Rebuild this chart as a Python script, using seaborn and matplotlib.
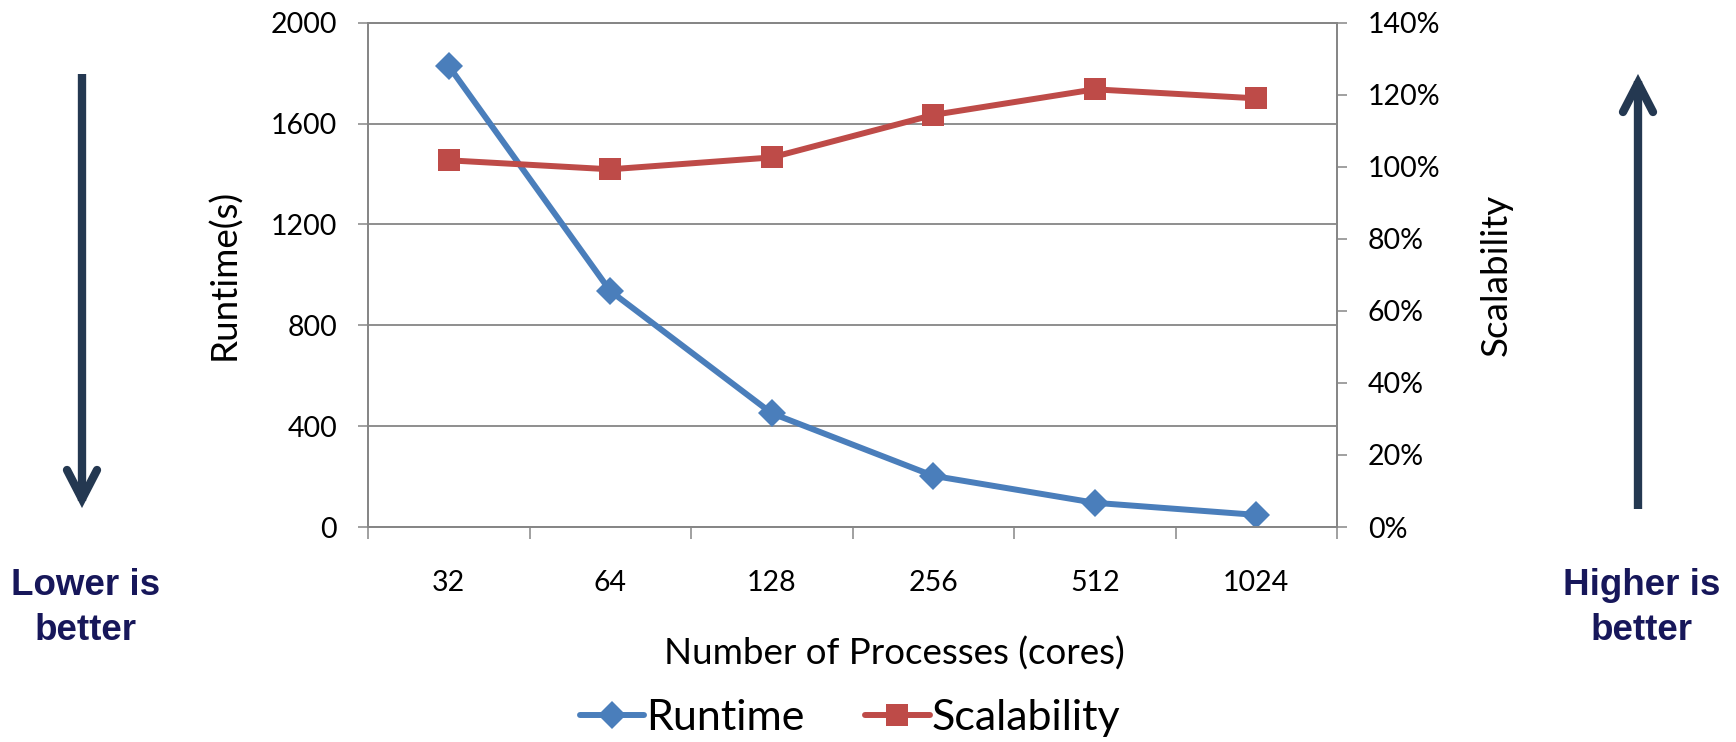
import numpy as np
import pandas as pd
import matplotlib
matplotlib.use("Agg")
import matplotlib.pyplot as plt
from matplotlib.lines import Line2D
from matplotlib.ticker import FixedLocator, FuncFormatter
import seaborn as sns

# ---- data ----
cores = ["32", "64", "128", "256", "512", "1024"]
runtime = [1828, 936, 451, 203, 96, 48]
scalability = [101.8, 99.3, 102.6, 114.4, 121.5, 119.0]
runtime_ticks = [0, 400, 800, 1200, 1600, 2000]
scal_ticks = [0, 20, 40, 60, 80, 100, 120, 140]

sns.set_theme(style="white")
plt.rcParams["font.family"] = ["Lato", "DejaVu Sans"]
plt.rcParams["text.color"] = "black"

W, H = 1736, 742
fig = plt.figure(figsize=(W / 100, H / 100), dpi=100)

def fx(px):
    return px / W

def fy(py):
    return 1 - py / H

L, R, T, B = 368, 1337, 22.7, 527
ax = fig.add_axes([fx(L), fy(B), (R - L) / W, (B - T) / H])
ax2 = ax.twinx()

df = pd.DataFrame({"cores": cores, "Runtime": runtime, "Scalability": scalability})

blue = "#4A7EBB"
red = "#BE4B48"
gray = "#868686"

sns.lineplot(data=df, x="cores", y="Runtime", ax=ax, sort=False, color=blue,
             lw=4.3, marker="D", markersize=14, markeredgewidth=0,
             label="Runtime", legend=False, zorder=3)
sns.lineplot(data=df, x="cores", y="Scalability", ax=ax2, sort=False, color=red,
             lw=4.3, marker="s", markersize=16.5, markeredgewidth=0,
             label="Scalability", legend=False, zorder=3)

n = len(cores)
for a in (ax, ax2):
    a.set_xlim(-0.5, n - 0.5)
    for s in a.spines.values():
        s.set_color(gray)
        s.set_linewidth(1.3)
        s.set_visible(True)

ax.set_ylim(0, 2000)
ax.yaxis.set_major_locator(FixedLocator(runtime_ticks))
ax2.set_ylim(0, 140)
ax2.yaxis.set_major_locator(FixedLocator(scal_ticks))
ax2.yaxis.set_major_formatter(FuncFormatter(lambda v, p: f"{v:.0f}%"))

ax.yaxis.grid(True, color=gray, lw=1.3)
ax.xaxis.grid(False)
ax2.grid(False)
ax.set_axisbelow(True)

ax.set_xticks(range(n))
ax.set_xticklabels(cores)
ax.set_xticks(np.arange(-0.5, n, 1.0), minor=True)
ax.tick_params(axis="x", which="major", length=0, pad=31, labelsize=20.5, labelcolor="black")
ax.tick_params(axis="x", which="minor", length=8.6, width=1.1, color=gray, direction="out", bottom=True)
ax.tick_params(axis="y", length=7.2, width=1.1, color=gray, direction="out", pad=15,
               labelsize=20.5, labelcolor="black", left=True)
ax2.tick_params(axis="y", length=7.2, width=1.1, color=gray, direction="out", pad=15,
                labelsize=20.5, labelcolor="black", right=True)

ax.set_xlabel("Number of Processes (cores)", fontsize=26.5, color="black")
ax.xaxis.set_label_coords((894 - L) / (R - L), (B - 637) / (B - T))
ax.set_ylabel("Runtime(s)", fontsize=26.5, color="black")
ax.yaxis.set_label_coords((241 - L) / (R - L), 0.5)
ax2.set_ylabel("Scalability", fontsize=26.5, color="black")
ax2.yaxis.set_label_coords((1480 - L) / (R - L), 0.5)

# legend
h1, l1 = ax.get_legend_handles_labels()
h2, l2 = ax2.get_legend_handles_labels()
leg = fig.legend(h1 + h2, l1 + l2, loc="center", bbox_to_anchor=(fx(850), fy(718)),
                 ncol=2, frameon=False, fontsize=31, handlelength=1.5,
                 handletextpad=0.05, columnspacing=1.4, labelcolor="black")

# arrows
acol = "#243851"
alw = 6.0

def arrow(x, tail, vertex, arm_y, dx=15):
    shaft_end = vertex + (2 if vertex > tail else -2)
    fig.add_artist(Line2D([fx(x), fx(x)], [fy(tail), fy(shaft_end)], color=acol, lw=alw,
                          solid_capstyle="butt"))
    fig.add_artist(Line2D([fx(x - dx), fx(x), fx(x + dx)], [fy(arm_y), fy(vertex), fy(arm_y)],
                          color=acol, lw=alw, solid_capstyle="round", solid_joinstyle="miter"))

arrow(82, 74, 499, 470)
arrow(1638, 509, 83, 112)

tcol = "#17175A"
kw = dict(ha="center", va="baseline", fontsize=26.5, fontweight="bold",
          family=["Liberation Sans", "DejaVu Sans"], color=tcol)
fig.text(fx(86), fy(595), "Lower is", **kw)
fig.text(fx(86), fy(640), "better", **kw)
fig.text(fx(1642), fy(595), "Higher is", **kw)
fig.text(fx(1642), fy(640), "better", **kw)

fig.savefig("out.png", dpi=100)
